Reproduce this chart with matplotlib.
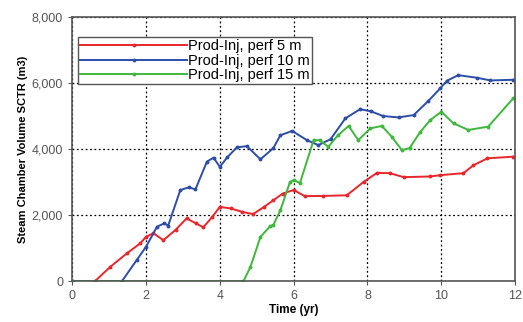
import numpy as np
import matplotlib
matplotlib.use("Agg")
import matplotlib.pyplot as plt
from matplotlib.ticker import FuncFormatter

# steam chamber volume curves (time in yr, volume in m3)
t5 = [0.0, 0.62, 1.03, 1.48, 1.84, 2.0, 2.2, 2.47, 2.8, 3.1, 3.35, 3.55, 3.8, 4.0,
      4.3, 4.6, 4.9, 5.2, 5.45, 5.7, 6.0, 6.3, 6.8, 7.44, 7.9, 8.26, 8.6, 8.98,
      9.7, 9.97, 10.6, 10.87, 11.25, 11.95]
v5 = [0, 0, 430, 840, 1140, 1340, 1450, 1240, 1550, 1900, 1750, 1630, 1950, 2250,
      2200, 2100, 2030, 2250, 2450, 2650, 2760, 2575, 2580, 2600, 3010, 3280, 3270,
      3150, 3170, 3210, 3270, 3510, 3720, 3770]

t10 = [0.0, 1.35, 1.75, 2.0, 2.3, 2.5, 2.6, 2.93, 3.16, 3.34, 3.65, 3.83, 4.0, 4.2,
       4.46, 4.73, 5.1, 5.45, 5.64, 5.96, 6.36, 6.67, 7.0, 7.4, 7.8, 8.1, 8.43,
       8.84, 9.25, 9.65, 9.97, 10.15, 10.46, 10.97, 11.33, 11.95]
v10 = [0, 0, 640, 1040, 1650, 1750, 1680, 2760, 2840, 2780, 3620, 3740, 3460, 3750,
       4050, 4090, 3690, 4030, 4420, 4550, 4270, 4120, 4300, 4930, 5210, 5140, 5000,
       4960, 5030, 5460, 5840, 6070, 6240, 6160, 6080, 6100]

t15 = [0.0, 4.64, 4.83, 5.1, 5.37, 5.45, 5.64, 5.9, 6.0, 6.17, 6.54, 6.7, 6.94, 7.2,
       7.49, 7.75, 8.08, 8.39, 8.66, 8.93, 9.14, 9.43, 9.7, 10.0, 10.33, 10.73,
       11.27, 11.95]
v15 = [0, 0, 430, 1340, 1670, 1700, 2150, 3000, 3060, 2970, 4270, 4270, 4070, 4420,
       4700, 4270, 4630, 4700, 4370, 3970, 4030, 4520, 4880, 5130, 4780, 4580,
       4680, 5540]

labels = ["Prod-Inj, perf 5 m", "Prod-Inj, perf 10 m", "Prod-Inj, perf 15 m"]
colors = ["#e8262b", "#2c4da8", "#3db83d"]

plt.rcParams['font.family'] = ['Liberation Sans', 'DejaVu Sans']

fig = plt.figure(figsize=(5.23, 3.22), dpi=100)
ax = fig.add_axes([0.138, 0.127, 0.847, 0.820])

for t, v, lab, c in zip([t5, t10, t15], [v5, v10, v15], labels, colors):
    ax.plot(t, v, color=c, lw=1.4, marker='o', ms=1.8, label=lab)

ax.set_xlim(0, 12)
ax.set_ylim(0, 8000)
ax.set_xticks(range(0, 13, 2))
ax.set_yticks(range(0, 8001, 2000))
ax.yaxis.set_major_formatter(FuncFormatter(lambda y, p: f"{int(y):,}"))
ax.tick_params(labelsize=9, colors="#555555", length=3, width=0.8)
for s in ax.spines.values():
    s.set_color("#555555")
    s.set_linewidth(1.2)

ax.grid(True, color="black", linestyle=(0, (1.5, 2)), linewidth=0.9)
ax.set_axisbelow(True)

ax.set_xlabel("Time (yr)", fontsize=8.5, fontweight="bold", labelpad=1)
ax.set_ylabel("Steam Chamber Volume SCTR (m3)", fontsize=8, fontweight="bold", labelpad=3)

leg = ax.legend(loc="upper left", bbox_to_anchor=(0.0135, 0.924), fontsize=10.5,
                handlelength=7.3, handletextpad=0.1, borderpad=0.15, labelspacing=0.02,
                borderaxespad=0, frameon=True, fancybox=False)
leg.get_frame().set_edgecolor("#555555")
leg.get_frame().set_linewidth(1.0)
leg.get_frame().set_alpha(1)

fig.savefig("out.png", dpi=100)
